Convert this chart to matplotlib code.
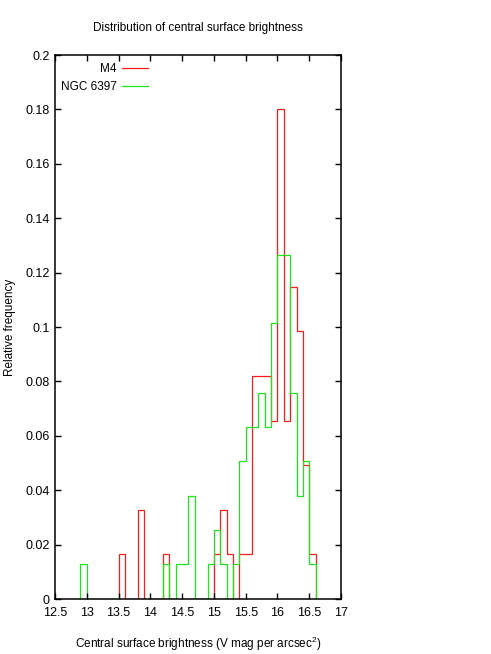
import matplotlib
matplotlib.use("Agg")
import matplotlib.pyplot as plt
import numpy as np

plt.rcParams['font.family'] = ['Liberation Sans', 'DejaVu Sans']
plt.rcParams['mathtext.default'] = 'regular'

#---------------------------#
# Data (bin start, relative frequency), bin width 0.1
#---------------------------#
bin_width = 0.1

m4_bins = [13.5, 13.8, 14.2, 15.0, 15.1, 15.2, 15.4, 15.5, 15.6, 15.7,
           15.8, 15.9, 16.0, 16.1, 16.2, 16.3, 16.4, 16.5]
m4_freq = [0.0164, 0.0328, 0.0164, 0.0164, 0.0328, 0.0164, 0.0164, 0.0164, 0.0820, 0.0820,
           0.0820, 0.0656, 0.1803, 0.0656, 0.1148, 0.0984, 0.0492, 0.0164]

ngc_bins = [12.9, 14.2, 14.4, 14.5, 14.6, 14.9, 15.0, 15.1, 15.3, 15.4, 15.5,
            15.6, 15.7, 15.8, 15.9, 16.0, 16.1, 16.2, 16.3, 16.4, 16.5]
ngc_freq = [0.0127, 0.0127, 0.0127, 0.0127, 0.0380, 0.0127, 0.0253, 0.0127, 0.0127, 0.0506, 0.0633,
            0.0633, 0.0759, 0.0633, 0.1013, 0.1266, 0.1266, 0.0759, 0.0380, 0.0506, 0.0127]

series_labels = ["M4", "NGC 6397"]
series_colors = ["#ff1a1a", "#1ae61a"]

x_ticks = [12.5, 13, 13.5, 14, 14.5, 15, 15.5, 16, 16.5, 17]
x_tick_labels = ["12.5", "13", "13.5", "14", "14.5", "15", "15.5", "16", "16.5", "17"]
y_ticks = [0, 0.02, 0.04, 0.06, 0.08, 0.1, 0.12, 0.14, 0.16, 0.18, 0.2]
y_tick_labels = ["0", "0.02", "0.04", "0.06", "0.08", "0.1", "0.12", "0.14", "0.16", "0.18", "0.2"]


def to_stairs(bins, freq):
    # fill empty bins with zero so the outline runs continuously
    start = min(bins)
    n = int(round((max(bins) - start) / bin_width)) + 1
    vals = np.zeros(n)
    for b, f in zip(bins, freq):
        vals[int(round((b - start) / bin_width))] = f
    edges = start + bin_width * np.arange(n + 1)
    return vals, edges


def main():
    fig = plt.figure(figsize=(4.91, 6.54), dpi=100)
    ax = fig.add_axes([55 / 491, 55 / 654, 286 / 491, 544 / 654])

    for (bins, freq), lab, col in zip([(m4_bins, m4_freq), (ngc_bins, ngc_freq)],
                                      series_labels, series_colors):
        vals, edges = to_stairs(bins, freq)
        ax.stairs(vals, edges, baseline=0, color=col, linewidth=0.9, label=lab)

    ax.set_xlim(12.5, 17)
    ax.set_ylim(0, 0.2)
    ax.set_xticks(x_ticks)
    ax.set_xticklabels(x_tick_labels)
    ax.set_yticks(y_ticks)
    ax.set_yticklabels(y_tick_labels)
    ax.tick_params(direction="in", length=4.5, width=1, top=True, right=True,
                   labelsize=9, colors="black")
    ax.tick_params(axis="x", pad=6)
    ax.tick_params(axis="y", pad=4)
    for sp in ax.spines.values():
        sp.set_linewidth(1.1)

    ax.set_title("Distribution of central surface brightness", fontsize=8.5, pad=17)
    ax.set_xlabel(r"Central surface brightness (V mag per arcsec$^2$)", fontsize=8.5)
    ax.xaxis.set_label_coords(0.5, -0.066)
    ax.set_ylabel("Relative frequency", fontsize=8.5)
    ax.yaxis.set_label_coords(-0.135, 0.5)

    leg = ax.legend(loc="upper left", bbox_to_anchor=(0.02, 0.985), frameon=False,
                    markerfirst=False, fontsize=8.5, handlelength=2.2, handletextpad=0.5,
                    labelspacing=0.5, borderpad=0, borderaxespad=0)
    for t in leg.get_texts():
        t.set_ha("right")

    fig.savefig("out.png", dpi=100)


if __name__ == "__main__":
    main()
